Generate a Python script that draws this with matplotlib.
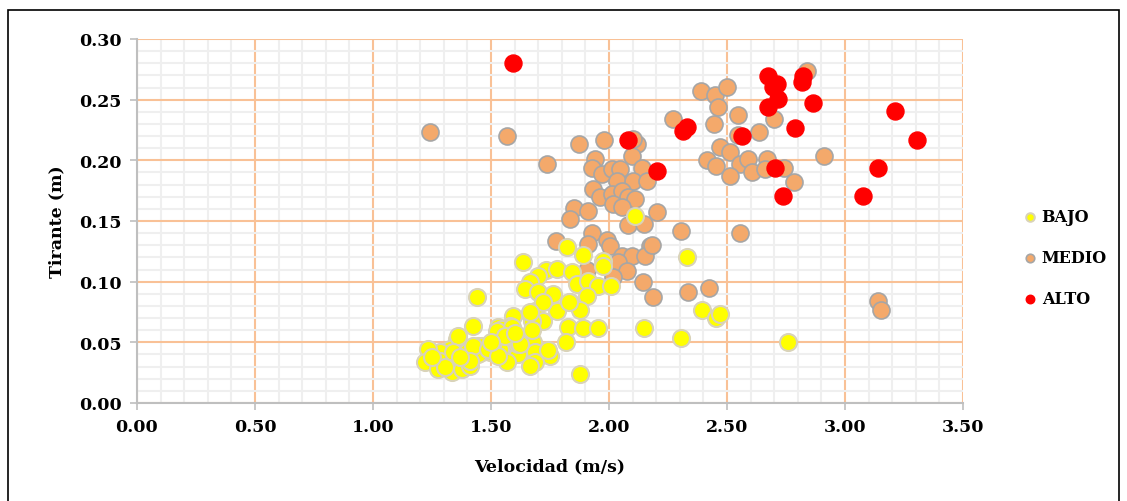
import matplotlib
matplotlib.use('Agg')
import matplotlib.pyplot as plt
from matplotlib.ticker import MultipleLocator
from matplotlib.patches import Rectangle

# Velocidad (m/s) y Tirante (m) por categoria
bajo_v = [2.11, 1.975, 1.975, 1.89, 1.822, 2.33, 1.636, 1.733, 1.78, 1.70, 1.665, 1.644,
          1.843, 1.864, 1.911, 1.953, 2.008, 1.907, 1.835, 1.877, 1.72, 1.70, 1.763, 1.78,
          1.686, 1.665, 1.72, 1.674, 1.593, 1.58, 1.538, 1.44, 1.424, 1.826, 1.89, 1.953,
          2.148, 2.305, 1.818, 1.741, 1.708, 1.678, 1.623, 1.614, 1.58, 1.538, 1.496, 1.453,
          1.445, 1.356, 1.326, 1.284, 1.233, 1.674, 1.75, 1.686, 1.686, 1.568, 1.508, 1.462,
          1.462, 1.36, 1.22, 1.284, 1.347, 1.339, 1.398, 1.445, 1.424, 1.487, 1.53, 1.53,
          1.547, 1.275, 1.335, 1.377, 1.411, 1.305, 1.877, 2.758, 1.665, 1.614, 2.394, 2.453,
          2.47, 1.72, 1.83, 1.665, 1.589, 1.525, 1.623, 1.741, 1.558, 1.60, 1.50, 1.41,
          1.37, 1.25]
bajo_t = [0.154, 0.117, 0.113, 0.122, 0.1286, 0.120, 0.1162, 0.1097, 0.1105, 0.1047, 0.0998, 0.094,
          0.108, 0.098, 0.1006, 0.0965, 0.0965, 0.0882, 0.0833, 0.0767, 0.084, 0.0915, 0.0899, 0.0758,
          0.0758, 0.0734, 0.0676, 0.0676, 0.0717, 0.0635, 0.061, 0.0874, 0.0635, 0.0626, 0.0618, 0.0618,
          0.0618, 0.0536, 0.0503, 0.0429, 0.0429, 0.0503, 0.047, 0.040, 0.0503, 0.0445, 0.042, 0.042,
          0.047, 0.0528, 0.0445, 0.042, 0.0445, 0.060, 0.0387, 0.042, 0.0338, 0.0338, 0.0503, 0.042,
          0.047, 0.055, 0.0338, 0.0346, 0.0338, 0.042, 0.042, 0.040, 0.047, 0.0445, 0.0387, 0.0626,
          0.061, 0.028, 0.0256, 0.028, 0.0305, 0.0297, 0.0239, 0.0503, 0.0305, 0.0486, 0.0767, 0.070,
          0.0734, 0.0833, 0.0833, 0.075, 0.0626, 0.0594, 0.0486, 0.0437, 0.055, 0.058, 0.050, 0.035,
          0.038, 0.038]

medio_v = [1.242, 1.568, 1.737, 1.873, 1.979, 2.119, 2.097, 1.94, 1.928, 1.97, 2.013, 2.047,
           2.14, 2.034, 2.10, 2.161, 1.932, 1.962, 2.013, 2.055, 2.08, 2.11, 2.017, 2.055,
           1.852, 1.911, 1.835, 2.08, 2.148, 2.203, 2.305, 1.928, 1.775, 1.99, 1.911, 2.004,
           2.055, 2.097, 2.174, 2.153, 2.038, 2.076, 2.017, 2.144, 2.186, 2.335, 2.424, 1.907,
           2.182, 2.39, 2.449, 2.50, 2.462, 2.445, 2.271, 2.547, 2.636, 2.70, 2.547, 2.47,
           2.513, 2.415, 2.453, 2.555, 2.589, 2.606, 2.513, 2.669, 2.66, 2.741, 2.784, 2.91,
           2.839, 2.555, 3.14, 3.153, 2.10]
medio_t = [0.223, 0.220, 0.197, 0.2135, 0.2168, 0.2135, 0.2036, 0.201, 0.1937, 0.1888, 0.193, 0.193,
           0.1937, 0.183, 0.183, 0.183, 0.1764, 0.170, 0.172, 0.175, 0.170, 0.168, 0.164, 0.1616,
           0.1608, 0.158, 0.1517, 0.1467, 0.1476, 0.1575, 0.1418, 0.140, 0.1335, 0.1344, 0.131, 0.129,
           0.121, 0.121, 0.129, 0.121, 0.116, 0.109, 0.104, 0.100, 0.087, 0.0915, 0.0948, 0.110,
           0.130, 0.257, 0.254, 0.2605, 0.244, 0.230, 0.234, 0.2374, 0.2234, 0.234, 0.221, 0.211,
           0.207, 0.2003, 0.1954, 0.197, 0.201, 0.190, 0.187, 0.201, 0.193, 0.1937, 0.182, 0.2036,
           0.2737, 0.140, 0.084, 0.0767, 0.2176]

alto_v = [1.593, 2.08, 2.203, 2.313, 2.33, 2.564, 2.674, 2.71, 2.695, 2.716, 2.674, 2.82,
          2.817, 2.865, 2.788, 2.703, 2.737, 3.21, 3.305, 3.14, 3.076]
alto_t = [0.280, 0.2168, 0.191, 0.2245, 0.2275, 0.220, 0.2696, 0.263, 0.2605, 0.2506, 0.244, 0.2696,
          0.2646, 0.247, 0.2267, 0.1937, 0.1707, 0.2407, 0.2168, 0.1937, 0.1707]

serif = 'DejaVu Serif'

fig = plt.figure(figsize=(11.27, 5.02), dpi=100)
ax = fig.add_axes([137 / 1127, 1 - 404 / 502, (963 - 137) / 1127, (404 - 40) / 502])

ax.scatter(medio_v, medio_t, s=150, c='#F4A96B', edgecolors='#A6A6A6', linewidths=1.2,
           zorder=3, label='MEDIO')
ax.scatter(bajo_v, bajo_t, s=150, c='#FFFF00', edgecolors='#D9D3B8', linewidths=1.5,
           zorder=4, label='BAJO')
ax.scatter(alto_v, alto_t, s=150, c='#FF0000', edgecolors='#FF0000', linewidths=1.0,
           zorder=5, label='ALTO')

ax.set_xlim(0, 3.5)
ax.set_ylim(0, 0.30)
ax.xaxis.set_major_locator(MultipleLocator(0.5))
ax.xaxis.set_minor_locator(MultipleLocator(0.1))
ax.yaxis.set_major_locator(MultipleLocator(0.05))
ax.yaxis.set_minor_locator(MultipleLocator(0.01))
ax.xaxis.set_major_formatter(lambda v, p: f'{v:.2f}')
ax.yaxis.set_major_formatter(lambda v, p: f'{v:.2f}')

ax.grid(which='minor', color='#EFEFEF', linewidth=1.5, zorder=0)
ax.grid(which='major', color='#F9C196', linewidth=1.5, zorder=1)
ax.set_axisbelow(True)

for s in ['top', 'right']:
    ax.spines[s].set_visible(False)
for s in ['left', 'bottom']:
    ax.spines[s].set_color('#BFBFBF')
    ax.spines[s].set_linewidth(1.5)
    ax.spines[s].set_zorder(2)

ax.tick_params(which='major', length=5, width=1.2, color='#BFBFBF', pad=6)
ax.tick_params(which='minor', length=0)
for lab in ax.get_xticklabels() + ax.get_yticklabels():
    lab.set_fontfamily(serif)
    lab.set_fontweight('bold')
    lab.set_fontsize(12.5)

ax.set_xlabel('Velocidad (m/s)', fontfamily=serif, fontweight='bold', fontsize=12.5, labelpad=16)
ax.set_ylabel('Tirante (m)', fontfamily=serif, fontweight='bold', fontsize=12.5, labelpad=10)

handles, labels = ax.get_legend_handles_labels()
order = [1, 0, 2]
leg = ax.legend([handles[i] for i in order], [labels[i] for i in order],
                loc='center left', bbox_to_anchor=(1.072, 0.40), frameon=False,
                markerscale=0.5, handlelength=1.0, handletextpad=0.2, labelspacing=1.5,
                borderpad=0, borderaxespad=0,
                prop={'family': serif, 'weight': 'bold', 'size': 11.5})

fig.patches.append(Rectangle((8 / 1127, -0.02), (1119 - 8) / 1127, 1.02 - 11 / 502,
                             transform=fig.transFigure, fill=False, edgecolor='black',
                             linewidth=1.2))

fig.savefig('out.png', dpi=100)
